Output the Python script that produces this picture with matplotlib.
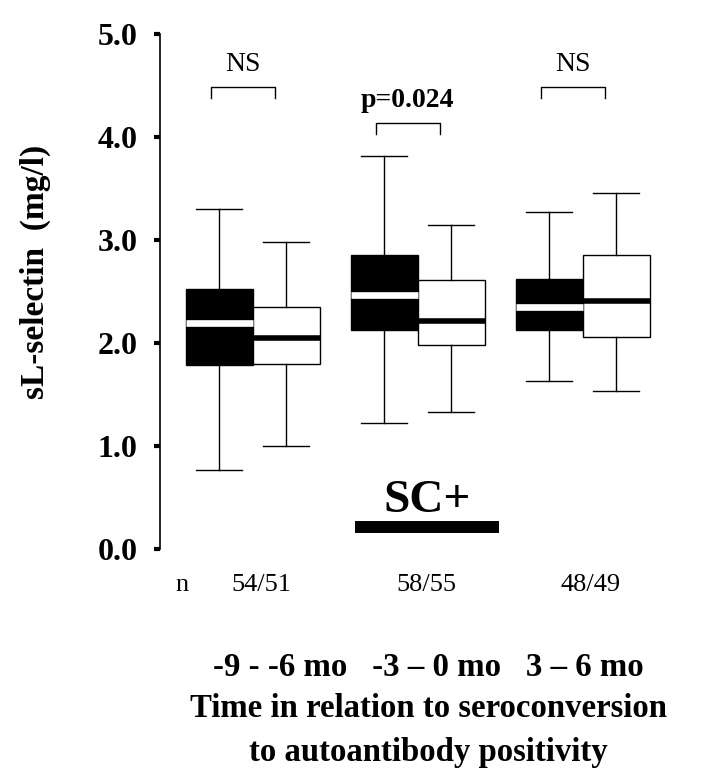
"""sL-selectin box plots around seroconversion."""

import matplotlib
matplotlib.use("Agg")
import matplotlib.pyplot as plt
import numpy as np

plt.rcParams["font.family"] = ["Liberation Serif", "DejaVu Serif"]

# Periods relative to seroconversion
periods = ["-9 - -6 mo", "-3 \u2013 0 mo", "3 \u2013 6 mo"]
n_counts = ["54/51", "58/55", "48/49"]

# Black boxes (autoantibody positive) : whisker low, q1, median, q3, whisker high
black_low = [0.77, 1.22, 1.63]
black_q1 = [1.79, 2.13, 2.13]
black_med = [2.19, 2.47, 2.35]
black_q3 = [2.52, 2.85, 2.62]
black_high = [3.30, 3.82, 3.27]

# White boxes (controls)
white_low = [1.00, 1.33, 1.53]
white_q1 = [1.80, 1.98, 2.06]
white_med = [2.05, 2.21, 2.41]
white_q3 = [2.35, 2.61, 2.85]
white_high = [2.98, 3.15, 3.46]

# Comparisons
p_labels = ["NS", "p=0.024", "NS"]
bracket_y = [4.49, 4.14, 4.49]

# SC+ period marker (x range in group units, y level)
sc_range = [1.62, 2.49]
sc_level = 0.21


def make_stats(low, q1, med, q3, high):
    return [
        {"whislo": a, "q1": b, "med": c, "q3": d, "whishi": e, "fliers": []}
        for a, b, c, d, e in zip(low, q1, med, q3, high)
    ]


fig = plt.figure(figsize=(7.16, 7.69), dpi=100)
ax = fig.add_axes([0.2228, 0.2861, 0.7549, 0.6697])

x = np.arange(1, len(periods) + 1)
half = 0.203
box_w = 2 * half

ax.bxp(
    make_stats(black_low, black_q1, black_med, black_q3, black_high),
    positions=x - half, widths=box_w, capwidths=0.28,
    patch_artist=True, showfliers=False, manage_ticks=False,
    boxprops=dict(facecolor="black", edgecolor="black", linewidth=1.0),
    medianprops=dict(color="white", linewidth=4.8, solid_capstyle="butt"),
    whiskerprops=dict(color="black", linewidth=1.0),
    capprops=dict(color="black", linewidth=1.0),
)
ax.bxp(
    make_stats(white_low, white_q1, white_med, white_q3, white_high),
    positions=x + half, widths=box_w, capwidths=0.28,
    patch_artist=True, showfliers=False, manage_ticks=False,
    boxprops=dict(facecolor="white", edgecolor="black", linewidth=1.0),
    medianprops=dict(color="black", linewidth=4.0, solid_capstyle="butt"),
    whiskerprops=dict(color="black", linewidth=1.0),
    capprops=dict(color="black", linewidth=1.0),
)

# Brackets with significance labels
for xi, yb, lab in zip(x, bracket_y, p_labels):
    x0 = xi - half - 0.05
    x1 = xi + half - 0.07
    ax.plot([x0, x0, x1, x1], [yb - 0.11, yb, yb, yb - 0.11],
            color="black", linewidth=1.0, clip_on=False)
    bold = lab.startswith("p")
    ax.text((x0 + x1) / 2, yb + 0.21, lab, ha="center", va="center",
            fontsize=20, fontweight="bold" if bold else "normal")

# SC+ marker
ax.plot(sc_range, [sc_level, sc_level], color="black", linewidth=8.6,
        solid_capstyle="butt")
ax.text(np.mean(sc_range), sc_level + 0.26, "SC+", ha="center", va="center",
        fontsize=34, fontweight="bold")

# n per group
ax.text(0.572, -0.35, "n", ha="center", va="center", fontsize=19, clip_on=False)
for xi, nc in zip(x, n_counts):
    ax.text(xi + 0.05, -0.35, nc, ha="center", va="center", fontsize=19,
            clip_on=False)

ax.set_xlim(0.435, 3.711)
ax.set_ylim(0, 5)
ax.set_yticks(np.arange(0, 5.1, 1.0))
ax.set_yticklabels([f"{v:.1f}" for v in np.arange(0, 5.1, 1.0)],
                   fontweight="bold")
ax.tick_params(axis="y", direction="out", length=4, width=3, labelsize=23,
               pad=12)
ax.set_xticks([])
for side in ["top", "right", "bottom"]:
    ax.spines[side].set_visible(False)
ax.spines["left"].set_linewidth(1.2)

fig.text(0.049, 0.646, "sL-selectin  (mg/l)", rotation=90, ha="center",
         va="center", fontsize=24, fontweight="bold")

fig.text(0.598, 0.132, "   ".join(periods), ha="center", va="center",
         fontsize=23.7, fontweight="bold")
fig.text(0.598, 0.079, "Time in relation to seroconversion", ha="center",
         va="center", fontsize=23.6, fontweight="bold")
fig.text(0.598, 0.022, "to autoantibody positivity", ha="center",
         va="center", fontsize=23.6, fontweight="bold")

fig.savefig("out.png", dpi=100)
